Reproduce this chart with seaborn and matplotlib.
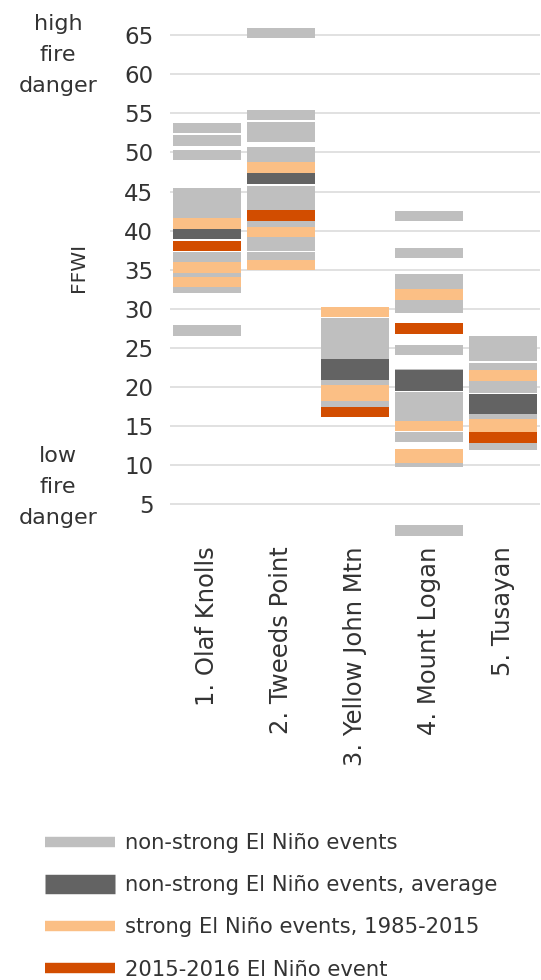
import matplotlib
matplotlib.use("Agg")
import matplotlib.pyplot as plt
from matplotlib.lines import Line2D
import seaborn as sns

# ---------------- data ----------------
stations = ["1. Olaf Knolls", "2. Tweeds Point", "3. Yellow John Mtn",
            "4. Mount Logan", "5. Tusayan"]

# FFWI values per station (one list per station)
nonstrong = [
    [53.15, 51.55, 49.7, 44.8, 43.5, 42.3, 36.65, 34.3, 32.7, 27.25],
    [65.3, 54.8, 53.2, 51.95, 50.0, 49.5, 45.0, 43.9, 43.3, 40.9, 38.5, 38.1, 36.6],
    [28.2, 27.0, 25.8, 24.6, 24.25, 20.6, 17.8],
    [41.85, 37.15, 33.8, 33.2, 30.5, 30.2, 24.75, 21.7, 18.75, 17.5, 16.4, 13.6, 10.45, 1.65],
    [25.8, 24.6, 24.0, 22.4, 20.1, 19.9, 16.3, 12.65],
]
nonstrong_avg = [[39.6], [46.7], [22.9, 21.6], [21.5, 20.15], [18.5, 17.2]]
strong = [[40.95, 35.3, 33.45], [48.1, 39.85, 35.6], [29.6, 19.6, 18.9],
          [31.85, 15.0, 11.35, 10.95], [21.45, 15.3, 14.9]]
event_2015 = [[38.05], [41.95], [16.8], [27.5], [13.55]]

labels = ["non-strong El Niño events",
          "non-strong El Niño events, average",
          "strong El Niño events, 1985-2015",
          "2015-2016 El Niño event"]
yticks = [5, 10, 15, 20, 25, 30, 35, 40, 45, 50, 55, 60, 65]

# ---------------- style ----------------
C_GRAY = "#bfbfbf"
C_DARK = "#636363"
C_PEACH = "#fbbf85"
C_RED = "#d24d00"
TXT = "#333333"
THICK = 1.35

sns.set_theme(style="white")
plt.rcParams["font.family"] = ["DejaVu Sans"]

fig = plt.figure(figsize=(5.41, 9.8), dpi=100)
ax = fig.add_axes([170 / 541, (980 - 543.5) / 980, 370 / 541, (543.5 - 11.7) / 980])

layers = [(nonstrong, C_GRAY), (strong, C_PEACH), (nonstrong_avg, C_DARK), (event_2015, C_RED)]
for group, col in layers:
    for st, vals in zip(stations, group):
        for v in vals:
            sns.barplot(x=[st], y=[THICK], order=stations, bottom=v - THICK / 2,
                        width=0.92, color=col, saturation=1, errorbar=None,
                        linewidth=0, ax=ax, zorder=3)

ax.set_ylim(0, 68)
ax.set_xlim(-0.5, 4.5)
ax.set_yticks(yticks)
ax.set_yticklabels([str(t) for t in yticks])
ax.yaxis.grid(True, color="#d9d9d9", linewidth=1.1, zorder=0)
ax.xaxis.grid(False)
ax.set_axisbelow(True)
sns.despine(ax=ax, left=True, bottom=True)
ax.tick_params(axis="y", length=0, pad=12, labelsize=16.5, labelcolor=TXT)
ax.tick_params(axis="x", length=0, pad=2, labelsize=17.5, labelcolor=TXT)
ax.set_xticks(range(len(stations)))
ax.set_xticklabels(stations, rotation=90, va="top", ha="center")
ax.set_xlabel("")
ax.set_ylabel("")

fig.text(78 / 541, 1 - 267 / 980, "FFWI", rotation=90, ha="center", va="center",
         fontsize=14.5, color=TXT)
fig.text(58 / 541, 1 - 55 / 980, "high\nfire\ndanger", ha="center", va="center",
         fontsize=16, color=TXT, linespacing=1.7)
fig.text(58 / 541, 1 - 487 / 980, "low\nfire\ndanger", ha="center", va="center",
         fontsize=16, color=TXT, linespacing=1.7)

handles = [Line2D([0], [0], color=C_GRAY, lw=7.5, solid_capstyle="butt"),
           Line2D([0], [0], color=C_DARK, lw=14, solid_capstyle="butt"),
           Line2D([0], [0], color=C_PEACH, lw=7.5, solid_capstyle="butt"),
           Line2D([0], [0], color=C_RED, lw=7.5, solid_capstyle="butt")]
leg = fig.legend(handles, labels, loc="upper left", bbox_to_anchor=(45 / 541, 1 - 833 / 980),
                 frameon=False, fontsize=15.2, handlelength=3.33, handletextpad=0.48,
                 labelspacing=1.05, borderpad=0, borderaxespad=0, labelcolor=TXT)

fig.savefig("out.png", dpi=100)
